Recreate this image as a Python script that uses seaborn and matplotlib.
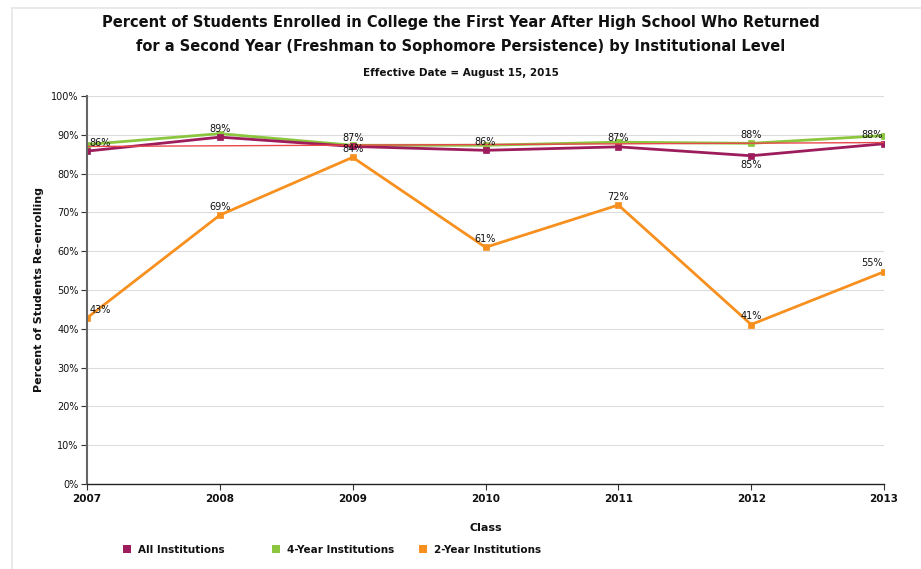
import matplotlib
matplotlib.use("Agg")
import matplotlib.pyplot as plt
from matplotlib.patches import Patch
from matplotlib.lines import Line2D
import seaborn as sns
import pandas as pd

years = [2007, 2008, 2009, 2010, 2011, 2012, 2013]
all_inst = [85.8, 89.4, 87.0, 86.0, 86.9, 84.6, 87.7]
four_year = [87.5, 90.3, 87.3, 87.3, 88.1, 87.8, 89.8]
two_year = [42.8, 69.3, 84.2, 61.0, 71.9, 41.1, 54.7]
ref_years = [2007, 2013]
ref_vals = [87.0, 88.0]
series_names = ["All Institutions", "4-Year Institutions", "2-Year Institutions"]
colors = ["#9c1c5c", "#8cc63f", "#f7901e"]
yticks = [0, 10, 20, 30, 40, 50, 60, 70, 80, 90, 100]

sns.set_theme(style="white")
plt.rcParams["font.family"] = ["DejaVu Sans"]

df = pd.DataFrame({
    "Class": years * 3,
    "value": four_year + two_year + all_inst,
    "series": [series_names[1]] * 7 + [series_names[2]] * 7 + [series_names[0]] * 7,
})

fig = plt.figure(figsize=(9.21, 5.69), dpi=100)
ax = fig.add_axes([87 / 921, 1 - 484 / 569, (884 - 87) / 921, (484 - 96) / 569])

for y in yticks[1:]:
    ax.axhline(y, color="#dcdcdc", lw=0.8, zorder=0)

pal = {series_names[0]: colors[0], series_names[1]: colors[1], series_names[2]: colors[2]}
sns.lineplot(data=df, x="Class", y="value", hue="series", palette=pal, marker="s",
             markersize=4, linewidth=2.0, ax=ax, legend=False,
             hue_order=[series_names[1], series_names[2], series_names[0]])
for ln in ax.get_lines():
    if ln.get_marker() == "s":
        ln.set_markeredgecolor(ln.get_color())
        ln.set_markerfacecolor(ln.get_color())
        ln.set_markeredgewidth(0.5)
sns.lineplot(x=ref_years, y=ref_vals, color="#e8474b", linewidth=1.0, ax=ax, legend=False)

ax.set_xlim(2007, 2013)
ax.set_ylim(0, 100)
ax.set_yticks(yticks)
ax.set_yticklabels([f"{v}%" for v in yticks], fontsize=7, color="#111111")
ax.set_xticks(years)
ax.set_xticklabels([str(y) for y in years], fontsize=7.5, fontweight="bold", color="#111111")
for s in ["top", "right"]:
    ax.spines[s].set_visible(False)
ax.spines["left"].set_color("#666666")
ax.spines["bottom"].set_color("#222222")
ax.spines["left"].set_linewidth(1.5)
ax.spines["bottom"].set_linewidth(1.0)
ax.tick_params(axis="both", direction="out", length=4, width=0.8, colors="#333333",
               left=True, bottom=True, pad=2, labelcolor="#111111")
ax.tick_params(axis="x", pad=3)
ax.set_xlabel("Class", fontsize=8, fontweight="bold", labelpad=14, color="#111111")
ax.set_ylabel("Percent of Students Re-enrolling", fontsize=8, fontweight="bold", labelpad=5,
              color="#111111")

def lab(x, y, dx, dy, ha="center"):
    ax.annotate(f"{round(y)}%", (x, y), xytext=(dx, dy), textcoords="offset points",
                ha=ha, va="center", fontsize=7, color="#111111")

# All institutions labels
lab(years[0], all_inst[0], 2, 6, "left")
for i in range(1, 6):
    if i == 5:
        lab(years[i], all_inst[i], 0, -7)
    else:
        lab(years[i], all_inst[i], 0, 6)
lab(years[6], all_inst[6], -1, 6, "right")
lab(years[5], four_year[5], 0, 6)
# 2-year labels
lab(years[0], two_year[0], 2, 6, "left")
for i in range(1, 6):
    lab(years[i], two_year[i], 0, 6)
lab(years[6], two_year[6], -1, 6, "right")

fig.text(0.5, 1 - 22 / 569, "Percent of Students Enrolled in College the First Year After High School Who Returned",
         ha="center", va="center", fontsize=10.5, fontweight="bold", color="#111111")
fig.text(0.5, 1 - 46 / 569, "for a Second Year (Freshman to Sophomore Persistence) by Institutional Level",
         ha="center", va="center", fontsize=10.5, fontweight="bold", color="#111111")
fig.text(0.5, 1 - 73 / 569, "Effective Date = August 15, 2015",
         ha="center", va="center", fontsize=7.5, fontweight="bold", color="#111111")

legend_x = [123, 272, 419]
for name, c, lx in zip(series_names, colors, legend_x):
    lg = fig.legend([Patch(facecolor=c, edgecolor="none")], [name], loc="center left",
                    bbox_to_anchor=(lx / 921, 1 - 550 / 569), frameon=False,
                    handlelength=0.8, handleheight=0.8, handletextpad=0.6,
                    borderaxespad=0, borderpad=0, prop={"weight": "bold", "size": 7.5})
    for t in lg.get_texts():
        t.set_color("#111111")

fig.add_artist(Line2D([12 / 921, 1], [1 - 8 / 569, 1 - 8 / 569], color="#e6e6e6", lw=1.2))
fig.add_artist(Line2D([12 / 921, 12 / 921], [0, 1 - 8 / 569], color="#e6e6e6", lw=1.2))

fig.savefig("out.png", dpi=100)
